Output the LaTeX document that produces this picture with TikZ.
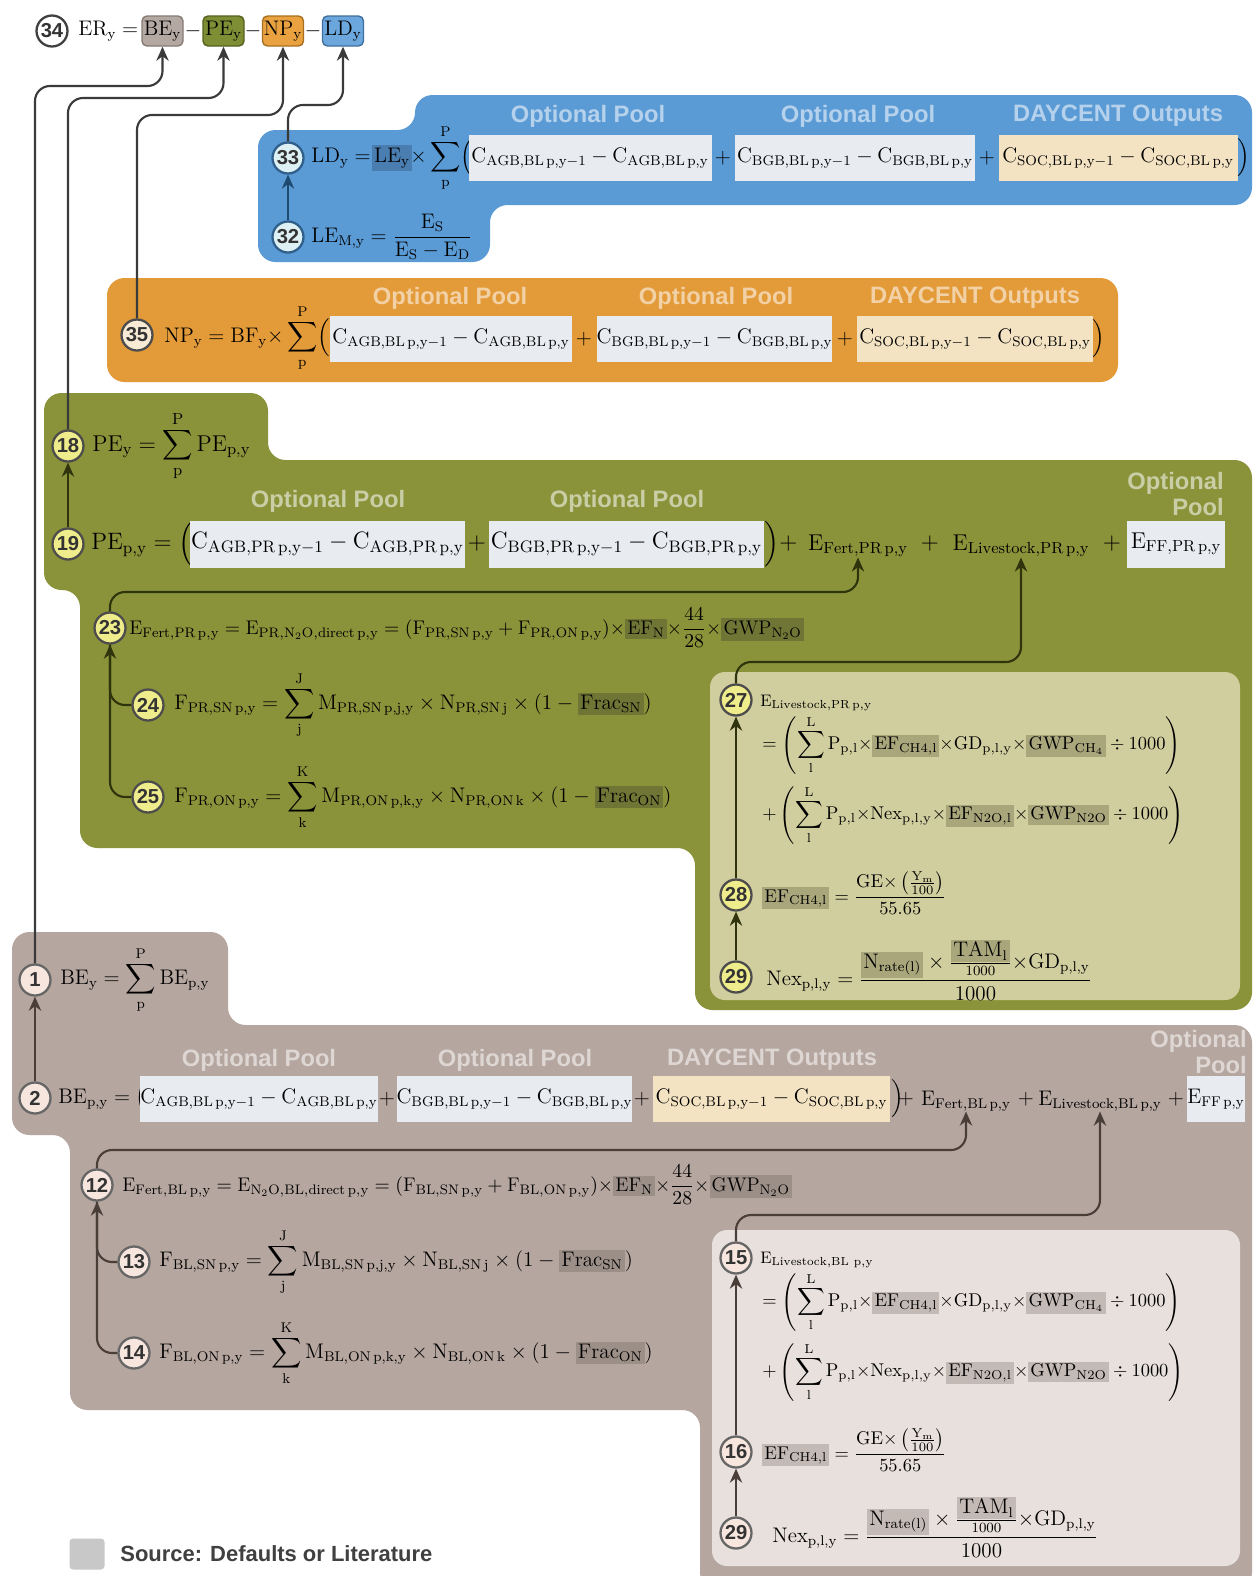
\RequirePackage{fix-cm}
\documentclass[tikz,border=0pt]{standalone}
\usepackage{amsmath}
\usepackage{fontspec}
\setsansfont{Liberation Sans}
\usetikzlibrary{arrows.meta}
\newcommand\pxu{0.02cm}
\newcommand\src[2]{\begingroup\setlength{\fboxsep}{1.2pt}\colorbox{#1}{$\mathrm{#2}$}\endgroup}
\newcommand\Cdiff[2]{\mathrm{C}_{\mathrm{#1,#2\,p,y-1}}-\mathrm{C}_{\mathrm{#1,#2\,p,y}}}
\newcommand\sump[1]{\displaystyle\sum_{\mathrm{#1}}^{\mathrm{\uppercase{#1}}}}
\newcommand\tm{{\times}}
\definecolor{blueP}{HTML}{5B9BD5}
\definecolor{oranP}{HTML}{E39B3A}
\definecolor{greenP}{HTML}{8A933A}
\definecolor{brownP}{HTML}{B5A69F}
\definecolor{boxL}{HTML}{E8EBF0}
\definecolor{boxD}{HTML}{F3E3C3}
\definecolor{inG}{HTML}{D0CD9E}
\definecolor{inB}{HTML}{E7E0DC}
\definecolor{srcBl}{HTML}{4A7DB0}
\definecolor{srcG}{HTML}{6F7535}
\definecolor{srcIG}{HTML}{A9A67C}
\definecolor{srcBr}{HTML}{9C8F88}
\definecolor{srcIB}{HTML}{C4BAB5}
\definecolor{lineT}{HTML}{3A3A3A}
\definecolor{lineG}{HTML}{2F340D}
\definecolor{lineB}{HTML}{4A3E38}
\definecolor{lineBl}{HTML}{1F4A70}
\definecolor{legG}{HTML}{C8C8C8}
\definecolor{beT}{HTML}{B4A8A2}
\definecolor{beTd}{HTML}{857A74}
\definecolor{peT}{HTML}{7E8E35}
\definecolor{peTd}{HTML}{56611E}
\definecolor{npT}{HTML}{E9A23F}
\definecolor{npTd}{HTML}{A86F20}
\definecolor{ldT}{HTML}{6BA7DD}
\definecolor{ldTd}{HTML}{3F6F9E}
\definecolor{cBlD}{HTML}{2F5F8A}
\definecolor{cBlf}{HTML}{DDF0F3}
\definecolor{cOf}{HTML}{F8EBD5}
\definecolor{cGf}{HTML}{EFEC8C}
\definecolor{cBf}{HTML}{F6E6DE}
\tikzset{
  num/.style n args={2}{circle, draw=#1, fill=#2, line width=1.3pt, minimum size=0.62cm, inner sep=0pt,
    font=\sffamily\bfseries\fontsize{11.5}{12}\selectfont, text=black!80},
  numW/.style={num={black!75}{white}},
  numBl/.style={num={cBlD}{cBlf}},
  numO/.style={num={black!70}{cOf}},
  numG/.style={num={black!70}{cGf}},
  numB/.style={num={black!60}{cBf}},
  eq/.style={font=\fontsize{12}{14}\selectfont, anchor=west, inner sep=0pt},
  eqc/.style={font=\fontsize{12}{14}\selectfont, inner sep=0pt},
  eqs/.style={font=\fontsize{10.5}{12}\selectfont, anchor=west, inner sep=0pt},
  eqm/.style={font=\fontsize{11.2}{13}\selectfont, anchor=west, inner sep=0pt},
  cbox/.style={fill=boxL, minimum height=46*\pxu, inner sep=0pt, font=\fontsize{12}{14}\selectfont},
  dbox/.style={cbox, fill=boxD},
  topb/.style={rounded corners=0.1cm, minimum width=41*\pxu, minimum height=30*\pxu, line width=0.8pt,
    font=\fontsize{12}{14}\selectfont, inner sep=0pt},
  lbl/.style={font=\sffamily\bfseries\fontsize{13.5}{15}\selectfont, text=white, text opacity=0.55, inner sep=0pt},
  lnk/.style={line width=1.2pt, rounded corners=0.3cm},
  arrT/.style={lnk, draw=lineT, -{Stealth[length=8pt,width=7pt]}},
  arrG/.style={lnk, draw=lineG, -{Stealth[length=8pt,width=7pt]}},
  lnkG/.style={lnk, draw=lineG},
  arrB/.style={lnk, draw=lineB, -{Stealth[length=8pt,width=7pt]}},
  lnkB/.style={lnk, draw=lineB},
}
\begin{document}
\begin{tikzpicture}[x=0.02cm,y=-0.02cm]
\useasboundingbox (0,0) rectangle (1256,1576);
\fill[white] (0,0) rectangle (1256,1576);
% ---------- panels
\fill[blueP, rounded corners=0.35cm] (415,95) -- (1252,95) -- (1252,205) -- (490,205) -- (490,262) -- (258,262) -- (258,130) -- (415,130) -- cycle;
\fill[oranP, rounded corners=0.35cm] (107,278) rectangle (1118,382);
\fill[greenP, rounded corners=0.35cm] (44,393) -- (268,393) -- (268,460) -- (1252,460) -- (1252,1010) -- (695,1010) -- (695,848) -- (80,848) -- (80,590) -- (44,590) -- cycle;
\fill[inG, rounded corners=0.3cm] (710,672) rectangle (1240,1000);
\fill[brownP, rounded corners=0.35cm] (12,932) -- (228,932) -- (228,1025) -- (1252,1025) -- (1252,1590) -- (700,1590) -- (700,1410) -- (70,1410) -- (70,1135) -- (12,1135) -- cycle;
\fill[inB, rounded corners=0.3cm] (712,1230) rectangle (1240,1566);

% ---------- top row (34)
\node[numW] (n34) at (52,31) {34};
\node[eq] (er) at (78,31) {$\mathrm{ER_y} =$};
\node[topb, fill=beT, draw=beTd] (be) at (162.5,31) {$\mathrm{BE_y}$};
\node[eqc] (m1) at (193,31) {$-$};
\node[topb, fill=peT, draw=peTd] (pe) at (223.5,31) {$\mathrm{PE_y}$};
\node[eqc] (m2) at (253,31) {$-$};
\node[topb, fill=npT, draw=npTd] (np) at (283,31) {$\mathrm{NP_y}$};
\node[eqc] (m3) at (313,31) {$-$};
\node[topb, fill=ldT, draw=ldTd] (ld) at (343,31) {$\mathrm{LD_y}$};

% ---------- blue panel (33, 32)
\node[lbl] (lb1) at (588,116) {Optional Pool};
\node[lbl] (lb2) at (858,116) {Optional Pool};
\node[lbl] (lb3) at (1118,116) {DAYCENT Outputs};
\node[numBl] (n33) at (288,158) {33};
\node[eq] (e33a) at (311,158) {$\mathrm{LD_y} =$};
\node[eqc, fill=srcBl, inner sep=1.5pt] (ley) at (392,158) {$\mathrm{LE_y}$};
\node[eq] (e33b) at (410,158) {$\tm\sump{p}\Bigl($};
\node[cbox, minimum width=243*\pxu] (b33a) at (590,158) {$\Cdiff{AGB}{BL}$};
\node[eqc] (p33a) at (723,158) {$+$};
\node[cbox, minimum width=240*\pxu] (b33b) at (855,158) {$\Cdiff{BGB}{BL}$};
\node[eqc] (p33b) at (987,158) {$+$};
\node[dbox, minimum width=239*\pxu] (b33c) at (1118,158) {$\Cdiff{SOC}{BL}$};
\node[eqc] (r33) at (1244,158) {$\Bigr)$};
\node[numBl] (n32) at (288,237) {32};
\node[eq] (e32) at (311,237) {$\mathrm{LE_{M,y}} = \dfrac{\mathrm{E_S}}{\mathrm{E_S}-\mathrm{E_D}}$};

% ---------- orange panel (35)
\node[lbl] (lo1) at (450,298) {Optional Pool};
\node[lbl] (lo2) at (716,298) {Optional Pool};
\node[lbl] (lo3) at (975,298) {DAYCENT Outputs};
\node[numO] (n35) at (137,335) {35};
\node[eq] (e35) at (164,338) {$\mathrm{NP_y} = \mathrm{BF_y}\tm\sump{p}\Bigl($};
\node[cbox, minimum width=242*\pxu] (b35a) at (451,339) {$\Cdiff{AGB}{BL}$};
\node[eqc] (p35a) at (584,339) {$+$};
\node[cbox, minimum width=235*\pxu] (b35b) at (714.5,339) {$\Cdiff{BGB}{BL}$};
\node[eqc] (p35b) at (845,339) {$+$};
\node[dbox, minimum width=236*\pxu] (b35c) at (975,339) {$\Cdiff{SOC}{BL}$};
\node[eqc] (r35) at (1099,339) {$\Bigr)$};

% ---------- green panel (18, 19, 23-29)
\node[numG] (n18) at (68,446) {18};
\node[eq, font=\fontsize{13}{15}\selectfont] (e18) at (92,446) {$\mathrm{PE_y} = \sump{p}\mathrm{PE_{p,y}}$};
\node[lbl] (lg1) at (328,501) {Optional Pool};
\node[lbl] (lg2) at (627,501) {Optional Pool};
\node[lbl, anchor=north east, align=right] (lg3) at (1224,472) {Optional\\Pool};
\node[numG] (n19) at (68,544) {19};
\node[eq, font=\fontsize{13.5}{15}\selectfont] (e19) at (91,544) {$\mathrm{PE_{p,y}} = \Bigl($};
\node[cbox, minimum width=275*\pxu, minimum height=47*\pxu, font=\fontsize{13.5}{15}\selectfont] (b19a) at (327.5,544) {$\Cdiff{AGB}{PR}$};
\node[eqc, font=\fontsize{13.5}{15}\selectfont] (p19a) at (477,544) {$+$};
\node[cbox, minimum width=275*\pxu, minimum height=47*\pxu, font=\fontsize{13.5}{15}\selectfont] (b19b) at (626.5,544) {$\Cdiff{BGB}{PR}$};
\node[eq, font=\fontsize{13.5}{15}\selectfont] (r19) at (764,544) {$\Bigr)+$};
\node[eqc, font=\fontsize{13}{15}\selectfont] (efertpr) at (858,546) {$\mathrm{E_{Fert,PR\,p,y}}$};
\node[eqc, font=\fontsize{13.5}{15}\selectfont] (p19b) at (930,544) {$+$};
\node[eqc, font=\fontsize{13}{15}\selectfont] (elivpr) at (1021,546) {$\mathrm{E_{Livestock,PR\,p,y}}$};
\node[eqc, font=\fontsize{13.5}{15}\selectfont] (p19c) at (1112,544) {$+$};
\node[cbox, minimum width=98*\pxu, minimum height=47*\pxu, font=\fontsize{13}{15}\selectfont] (b19c) at (1176,544) {$\mathrm{E_{FF,PR\,p,y}}$};

\node[numG] (n23) at (110,628) {23};
\node[eqm] (e23) at (129,628) {$\mathrm{E_{Fert,PR\,p,y}} = \mathrm{E_{PR,N_2O,direct\,p,y}} = (\mathrm{F_{PR,SN\,p,y}} + \mathrm{F_{PR,ON\,p,y}})\tm\src{srcG}{EF_N}\tm\dfrac{44}{28}\tm\src{srcG}{GWP_{N_2O}}$};
\node[numG] (n24) at (148,705) {24};
\node[eq] (e24) at (174,705) {$\mathrm{F_{PR,SN\,p,y}} = \sump{j}\mathrm{M_{PR,SN\,p,j,y}}\times\mathrm{N_{PR,SN\,j}}\times(1-\src{srcG}{Frac_{SN}})$};
\node[numG] (n25) at (148,797) {25};
\node[eq] (e25) at (174,797) {$\mathrm{F_{PR,ON\,p,y}} = \sump{k}\mathrm{M_{PR,ON\,p,k,y}}\times\mathrm{N_{PR,ON\,k}}\times(1-\src{srcG}{Frac_{ON}})$};

\node[numG] (n27) at (736,700) {27};
\node[eqs, font=\fontsize{9.5}{11}\selectfont] (e27a) at (760,703) {$\mathrm{E_{Livestock,PR\,p,y}}$};
\node[eqs] (e27b) at (762,745) {$=\left(\sump{l}\mathrm{P_{p,l}}\tm\src{srcIG}{EF_{CH4,l}}\tm\mathrm{GD_{p,l,y}}\tm\src{srcIG}{GWP_{CH_4}}\div 1000\right)$};
\node[eqs] (e27c) at (762,815) {$+\left(\sump{l}\mathrm{P_{p,l}}\tm\mathrm{Nex_{p,l,y}}\tm\src{srcIG}{EF_{N2O,l}}\tm\src{srcIG}{GWP_{N2O}}\div 1000\right)$};
\node[numG] (n28) at (736,895) {28};
\node[eqs] (e28) at (762,893) {$\src{srcIG}{EF_{CH4,l}} = \dfrac{\mathrm{GE}\tm\left(\frac{\mathrm{Y_m}}{100}\right)}{55.65}$};
\node[numG] (n29) at (736,977) {29};
\node[eq] (e29) at (766,970) {$\mathrm{Nex_{p,l,y}} = \dfrac{\src{srcIG}{N_{rate(l)}}\times\frac{\src{srcIG}{TAM_l}}{1000}\tm\mathrm{GD_{p,l,y}}}{1000}$};

% ---------- brown panel (1, 2, 12-16, 29)
\node[numB] (n1) at (35,980) {1};
\node[eq] (e1) at (60,980) {$\mathrm{BE_y} = \sump{p}\mathrm{BE_{p,y}}$};
\node[lbl] (lr1) at (259,1060) {Optional Pool};
\node[lbl] (lr2) at (515,1060) {Optional Pool};
\node[lbl] (lr3) at (772,1060) {DAYCENT Outputs};
\node[lbl, anchor=north east, align=right] (lr4) at (1247,1030) {Optional\\Pool};
\node[numB] (n2) at (35,1098) {2};
\node[eq] (e2) at (58,1098) {$\mathrm{BE_{p,y}} = \Bigl($};
\node[cbox, minimum width=232*\pxu] (b2a) at (259,1099) {$\Cdiff{AGB}{BL}$};
\node[eqc] (p2a) at (387,1099) {$+$};
\node[cbox, minimum width=231*\pxu] (b2b) at (514.5,1099) {$\Cdiff{BGB}{BL}$};
\node[eqc] (p2b) at (642,1099) {$+$};
\node[dbox, minimum width=237*\pxu] (b2c) at (771.5,1099) {$\Cdiff{SOC}{BL}$};
\node[eq] (r2) at (891,1099) {$\Bigr)$};
\node[eqc] (p2e) at (906,1099) {$+$};
\node[eqc] (efertbl) at (966,1101) {$\mathrm{E_{Fert,BL\,p,y}}$};
\node[eqc] (p2c) at (1026,1099) {$+$};
\node[eqc] (elivbl) at (1100,1101) {$\mathrm{E_{Livestock,BL\,p,y}}$};
\node[eqc] (p2d) at (1176,1099) {$+$};
\node[cbox, minimum width=58*\pxu] (b2d) at (1216,1099) {$\mathrm{E_{FF\,p,y}}$};

\node[numB] (n12) at (97,1185) {12};
\node[eqm] (e12) at (122,1185) {$\mathrm{E_{Fert,BL\,p,y}} = \mathrm{E_{N_2O,BL,direct\,p,y}} = (\mathrm{F_{BL,SN\,p,y}} + \mathrm{F_{BL,ON\,p,y}})\tm\src{srcBr}{EF_N}\tm\dfrac{44}{28}\tm\src{srcBr}{GWP_{N_2O}}$};
\node[numB] (n13) at (134,1262) {13};
\node[eq] (e13) at (159,1262) {$\mathrm{F_{BL,SN\,p,y}} = \sump{j}\mathrm{M_{BL,SN\,p,j,y}}\times\mathrm{N_{BL,SN\,j}}\times(1-\src{srcBr}{Frac_{SN}})$};
\node[numB] (n14) at (134,1353) {14};
\node[eq] (e14) at (159,1353) {$\mathrm{F_{BL,ON\,p,y}} = \sump{k}\mathrm{M_{BL,ON\,p,k,y}}\times\mathrm{N_{BL,ON\,k}}\times(1-\src{srcBr}{Frac_{ON}})$};

\node[numB] (n15) at (736,1258) {15};
\node[eqs, font=\fontsize{9.5}{11}\selectfont] (e15a) at (760,1260) {$\mathrm{E_{Livestock,BL\,\,p,y}}$};
\node[eqs] (e15b) at (762,1302) {$=\left(\sump{l}\mathrm{P_{p,l}}\tm\src{srcIB}{EF_{CH4,l}}\tm\mathrm{GD_{p,l,y}}\tm\src{srcIB}{GWP_{CH_4}}\div 1000\right)$};
\node[eqs] (e15c) at (762,1372) {$+\left(\sump{l}\mathrm{P_{p,l}}\tm\mathrm{Nex_{p,l,y}}\tm\src{srcIB}{EF_{N2O,l}}\tm\src{srcIB}{GWP_{N2O}}\div 1000\right)$};
\node[numB] (n16) at (736,1452) {16};
\node[eqs] (e16) at (762,1450) {$\src{srcIB}{EF_{CH4,l}} = \dfrac{\mathrm{GE}\tm\left(\frac{\mathrm{Y_m}}{100}\right)}{55.65}$};
\node[numB] (n29b) at (736,1533) {29};
\node[eq] (e29b) at (772,1527) {$\mathrm{Nex_{p,l,y}} = \dfrac{\src{srcIB}{N_{rate(l)}}\times\frac{\src{srcIB}{TAM_l}}{1000}\tm\mathrm{GD_{p,l,y}}}{1000}$};

% ---------- legend
\node[fill=legG, rounded corners=2pt, minimum width=35*\pxu, minimum height=31*\pxu] (lgbox) at (87,1554) {};
\node[anchor=west, font=\sffamily\bfseries\fontsize{12.5}{14}\selectfont, text=black!75, inner sep=0pt] (lgtxt) at (120,1554) {Source: Defaults or Literature};

% ---------- connectors
\draw[arrT] (n1.north) -- (n1.north |- 0,86) -- (be.south |- 0,86) -- (be.south);
\draw[arrT] (n18.north) -- (n18.north |- 0,98) -- (pe.south |- 0,98) -- (pe.south);
\draw[arrT] (n35.north) -- (n35.north |- 0,115) -- (np.south |- 0,115) -- (np.south);
\draw[arrT] (n33.north) -- (n33.north |- 0,105) -- (ld.south |- 0,105) -- (ld.south);
\draw[arrT, draw=lineBl] (n32.north) -- (n33.south);

\draw[arrG] (n19.north) -- (n18.south);
\draw[arrG] (n23.north) -- (n23.north |- 0,592) -- (efertpr.south |- 0,592) -- (efertpr.south);
\draw[lnkG] (n24.west) -- (n23.south |- n24.west) -- (n23.south);
\draw[arrG] (n25.west) -- (n23.south |- n25.west) -- (n23.south);
\draw[arrG] (n27.north) -- (n27.north |- 0,662) -- (elivpr.south |- 0,662) -- (elivpr.south);
\draw[arrG] (n28.north) -- (n27.south);
\draw[arrG] (n29.north) -- (n28.south);

\draw[arrB] (n2.north) -- (n1.south);
\draw[arrB] (n12.north) -- (n12.north |- 0,1150) -- (efertbl.south |- 0,1150) -- (efertbl.south);
\draw[lnkB] (n13.west) -- (n12.south |- n13.west) -- (n12.south);
\draw[arrB] (n14.west) -- (n12.south |- n14.west) -- (n12.south);
\draw[arrB] (n15.north) -- (n15.north |- 0,1215) -- (elivbl.south |- 0,1215) -- (elivbl.south);
\draw[arrB] (n16.north) -- (n15.south);
\draw[arrB] (n29b.north) -- (n16.south);
\end{tikzpicture}
\end{document}
